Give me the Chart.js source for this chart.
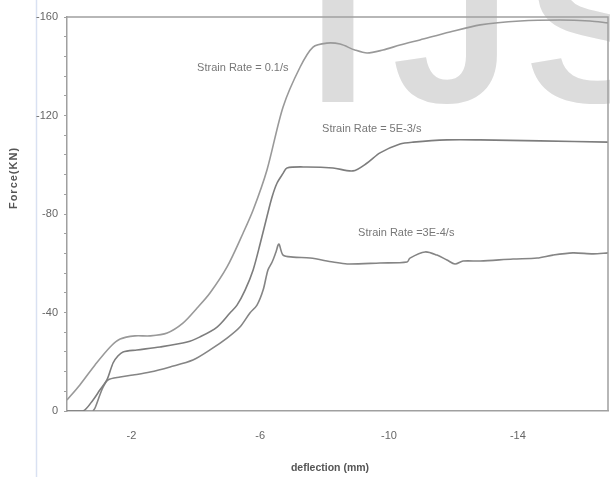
<!DOCTYPE html>
<html>
<head>
<meta charset="utf-8">
<script src="https://cdn.jsdelivr.net/npm/chart.js@4"></script>
<style>
  body { margin: 0; background: #fff; }
  #wrap { width: 610px; height: 477px; }
</style>
</head>
<body>
<div id="wrap"><canvas id="forceChart"></canvas></div>
<script>
// deflection (mm) and force (kN)
const fastX = [0, -0.40, -0.87, -1.34, -1.65, -2.11, -2.58, -3.11, -3.60, -4.04, -4.44, -4.97, -5.47, -5.78, -6.21, -6.71, -7.24, -7.64, -8.07, -8.48, -8.94, -9.32, -9.81, -10.34, -10.96, -11.89, -12.83, -14.07, -15.31, -16.24, -16.80];
const fastY = [-4.5, -10.6, -18.7, -26.0, -29.2, -30.5, -30.5, -31.7, -35.7, -41.8, -47.9, -58.5, -72.3, -81.6, -97.9, -123.5, -139.7, -147.8, -149.4, -149.0, -146.6, -145.4, -146.6, -148.6, -150.7, -153.9, -156.8, -158.4, -158.8, -158.4, -157.6];

const midX = [0, -0.50, -0.81, -1.02, -1.24, -1.43, -1.58, -1.74, -2.17, -2.89, -3.73, -4.13, -4.66, -5.06, -5.28, -5.53, -5.78, -6.00, -6.21, -6.37, -6.52, -6.71, -6.83, -7.45, -8.26, -8.88, -9.32, -9.72, -10.34, -10.75, -11.80, -12.83, -14.69, -16.80];
const midY = [0, 0, -4.5, -8.5, -12.6, -19.5, -22.3, -24.0, -24.8, -26.0, -28.0, -30.1, -34.1, -39.8, -43.0, -49.1, -57.3, -68.0, -79.0, -87.0, -92.5, -96.5, -98.7, -99.1, -98.7, -97.5, -100.7, -104.8, -108.4, -109.2, -110.1, -110.1, -109.7, -109.2];

const slowX = [-0.81, -0.87, -1.02, -1.12, -1.27, -1.65, -2.05, -2.58, -3.20, -3.91, -4.44, -4.97, -5.37, -5.68, -5.90, -6.09, -6.24, -6.37, -6.49, -6.58, -6.71, -7.02, -7.55, -8.26, -8.70, -9.72, -10.56, -10.65, -11.12, -11.49, -11.80, -12.05, -12.30, -12.83, -13.85, -14.60, -15.09, -15.71, -16.34, -16.80];
const slowY = [0, -1.2, -6.5, -9.7, -12.6, -13.8, -14.6, -15.8, -17.9, -20.7, -24.8, -29.6, -34.1, -39.8, -43.0, -49.1, -57.3, -60.5, -64.6, -67.8, -63.3, -62.5, -62.1, -60.5, -59.7, -60.1, -60.5, -62.1, -64.6, -63.3, -61.3, -59.7, -60.9, -60.9, -61.7, -62.1, -63.3, -64.2, -63.8, -64.2];

const seriesNames = ['Strain Rate = 0.1/s', 'Strain Rate = 5E-3/s', 'Strain Rate =3E-4/s'];
const seriesColors = ['#999999', '#7d7d7d', '#858585'];
// where each curve's label sits (data units, left edge / middle of text)
const labelX = [-4.04, -7.92, -9.04];
const labelY = [-139.3, -114.5, -72.3];

const xTicks = [-2, -6, -10, -14];
const yTicks = [-160, -120, -80, -40, 0];

const toPoints = (xs, ys) => xs.map((x, i) => ({ x: x, y: ys[i] }));

const decor = {
  id: 'decor',
  beforeDraw(chart) {
    const ctx = chart.ctx;
    ctx.save();
    ctx.fillStyle = '#fff';
    ctx.fillRect(0, 0, chart.width, chart.height);
    // page margin line
    ctx.strokeStyle = '#d9e1f2';
    ctx.lineWidth = 1.5;
    ctx.beginPath();
    ctx.moveTo(36.5, 0);
    ctx.lineTo(36.5, chart.height);
    ctx.stroke();
    // watermark
    ctx.fillStyle = '#dcdcdc';
    ctx.font = 'bold 215px "Liberation Sans", Arial, sans-serif';
    ctx.textBaseline = 'alphabetic';
    ctx.fillText('I', 308, 102);
    ctx.fillText('J', 392, 102);
    ctx.fillText('S', 525, 102);
    ctx.restore();
  },
  afterDatasetsDraw(chart) {
    const ctx = chart.ctx;
    const a = chart.chartArea;
    const xs = chart.scales.x, ys = chart.scales.y;
    ctx.save();
    // top and right frame
    ctx.strokeStyle = '#a0a0a0';
    ctx.lineWidth = 1.5;
    ctx.beginPath();
    ctx.moveTo(a.left, a.top);
    ctx.lineTo(a.right, a.top);
    ctx.lineTo(a.right, a.bottom);
    ctx.stroke();
    // curve labels
    ctx.fillStyle = '#777';
    ctx.font = '11px "Liberation Sans", Arial, sans-serif';
    ctx.textBaseline = 'middle';
    ctx.textAlign = 'left';
    seriesNames.forEach((n, i) => {
      ctx.fillText(n, xs.getPixelForValue(labelX[i]), ys.getPixelForValue(labelY[i]));
    });
    // axis titles
    ctx.fillStyle = '#555';
    ctx.textAlign = 'center';
    ctx.font = 'bold 10.5px "Liberation Sans", Arial, sans-serif';
    ctx.fillText('deflection (mm)', 330, 468);
    ctx.translate(14, 178);
    ctx.rotate(-Math.PI / 2);
    ctx.font = 'bold 11px "Liberation Sans", Arial, sans-serif';
    ctx.letterSpacing = '1px';
    ctx.fillText('Force(KN)', 0, 0);
    ctx.restore();
  }
};

new Chart(document.getElementById('forceChart'), {
  type: 'line',
  data: {
    datasets: [
      { label: seriesNames[0], data: toPoints(fastX, fastY) },
      { label: seriesNames[1], data: toPoints(midX, midY) },
      { label: seriesNames[2], data: toPoints(slowX, slowY) }
    ].map((d, i) => Object.assign(d, {
      borderColor: seriesColors[i],
      borderWidth: 1.6,
      pointRadius: 0,
      tension: 0.3,
      fill: false
    }))
  },
  options: {
    responsive: true,
    maintainAspectRatio: false,
    animation: false,
    layout: { padding: { top: 17, right: 2, left: 0, bottom: 0 } },
    plugins: { legend: { display: false }, tooltip: { enabled: false } },
    scales: {
      x: {
        type: 'linear',
        reverse: true,
        min: -16.8,
        max: 0,
        afterBuildTicks: s => { s.ticks = xTicks.map(v => ({ value: v })); },
        afterFit: s => { s.height = 66; },
        grid: { display: false },
        border: { color: '#a0a0a0', width: 1.5 },
        ticks: {
          color: '#666',
          padding: 10,
          maxRotation: 0,
          font: { family: '"Liberation Sans", Arial, sans-serif', size: 11 }
        }
      },
      y: {
        type: 'linear',
        reverse: true,
        min: -160,
        max: 0,
        afterFit: s => { s.width = 67; },
        grid: { drawOnChartArea: false, tickLength: 3, color: '#a0a0a0' },
        border: { color: '#a0a0a0', width: 1.5 },
        ticks: {
          stepSize: 8,
          autoSkip: false,
          color: '#666',
          padding: 6,
          font: { family: '"Liberation Sans", Arial, sans-serif', size: 11 },
          callback: v => yTicks.includes(v) ? String(v) : ''
        }
      }
    }
  },
  plugins: [decor]
});
</script>
</body>
</html>
